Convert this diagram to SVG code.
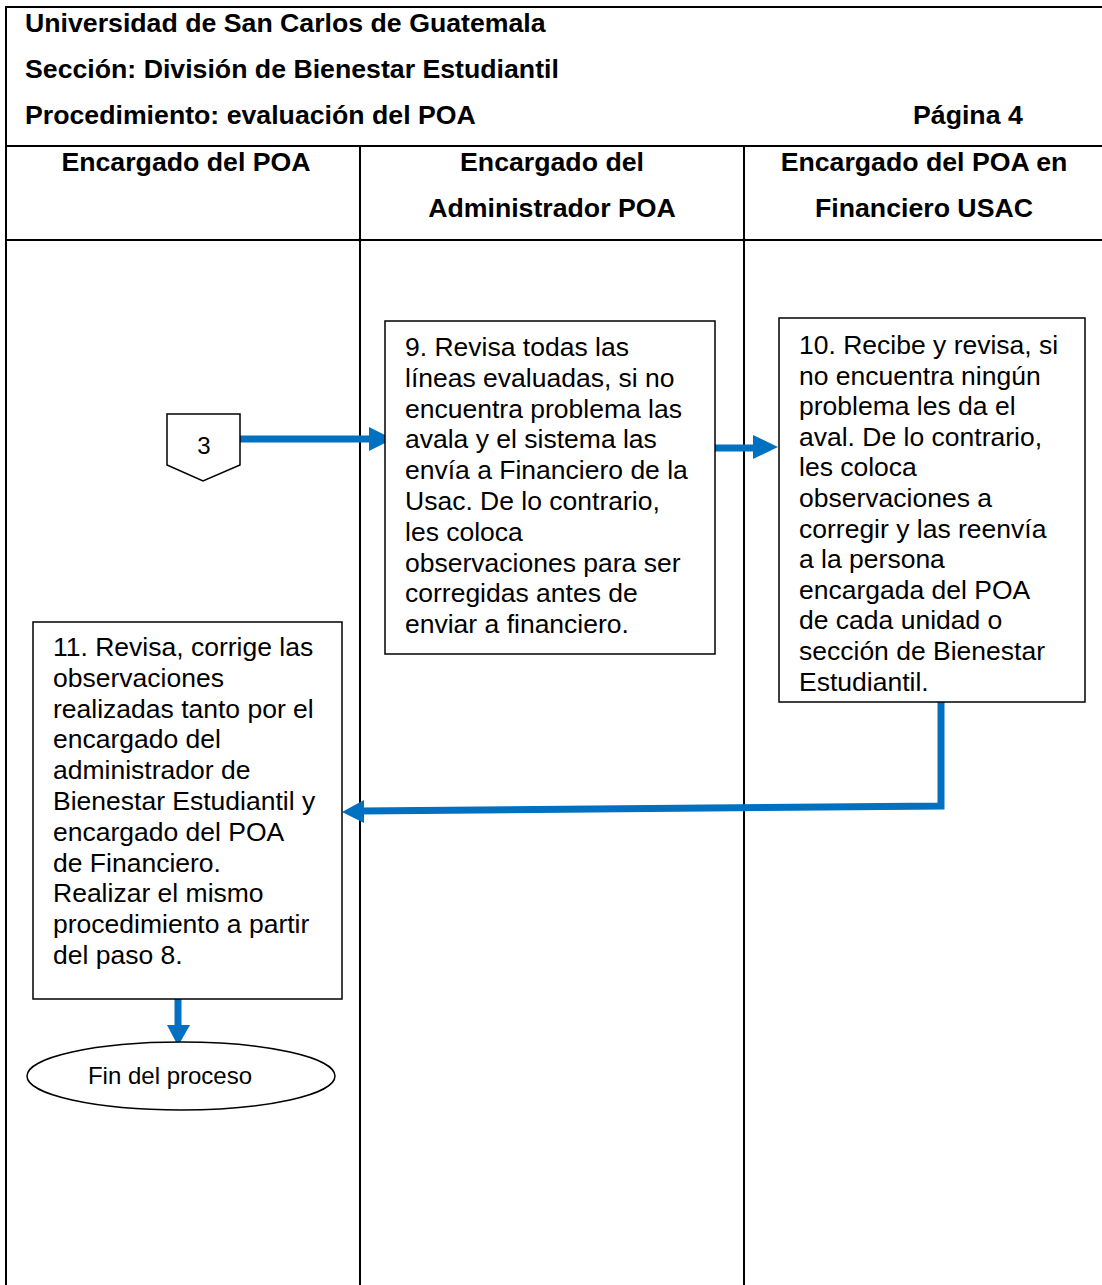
<svg xmlns="http://www.w3.org/2000/svg" width="1102" height="1285" viewBox="0 0 1102 1285">
  <style>
    .grid { stroke: #000; stroke-width: 2; fill: none; }
    .box { fill: #fff; stroke: #000; stroke-width: 1.5; }
    .hdr { font-family: "Liberation Sans", Arial, sans-serif; font-weight: bold; font-size: 26.7px; fill: #000; }
    .body { font-family: "Liberation Sans", Arial, sans-serif; font-size: 26.5px; fill: #000; }
    .small { font-family: "Liberation Sans", Arial, sans-serif; font-size: 24px; fill: #000; }
    .flow { stroke: #0070C0; stroke-width: 7; fill: none; }
    .head { fill: #0070C0; }
  </style>
  <rect width="1102" height="1285" fill="#fff"/>

  <!-- table frame -->
  <g id="table">
    <path class="grid" d="M6 1285 V7 H1110 M6 146 H1110 M6 240 H1110 M360 146 V1285 M744 146 V1285"/>
    <text class="hdr" x="25" y="32">Universidad de San Carlos de Guatemala</text>
    <text class="hdr" x="25" y="78">Sección: División de Bienestar Estudiantil</text>
    <text class="hdr" x="25" y="124">Procedimiento: evaluación del POA</text>
    <text class="hdr" x="913" y="124">Página 4</text>
    <text class="hdr" x="186" y="171" text-anchor="middle">Encargado del POA</text>
    <text class="hdr" x="552" y="171" text-anchor="middle">Encargado del</text>
    <text class="hdr" x="552" y="217" text-anchor="middle">Administrador POA</text>
    <text class="hdr" x="924" y="171" text-anchor="middle">Encargado del POA en</text>
    <text class="hdr" x="924" y="217" text-anchor="middle">Financiero USAC</text>
  </g>

  <!-- connectors -->
  <g id="connectors">
    <line class="flow" x1="240" y1="439" x2="372" y2="439"/>
    <polygon class="head" points="369,427 393,439 369,451"/>
    <line class="flow" x1="713" y1="448" x2="755" y2="448"/>
    <polygon class="head" points="753,435 778,447 753,459"/>
    <polyline class="flow" points="941,702 941,806 360,811"/>
    <polygon class="head" points="364,800 342,812 364,823"/>
    <line class="flow" x1="178" y1="999" x2="178" y2="1027"/>
    <polygon class="head" points="167,1025 190,1025 178,1046"/>
  </g>

  <!-- off-page reference 3 -->
  <g id="ref3">
    <polygon class="box" points="167,414 240,414 240,465 203,481 167,465"/>
    <text class="small" x="204" y="454" text-anchor="middle" font-size="19">3</text>
  </g>

  <!-- step 9 -->
  <g id="step9">
    <rect class="box" x="385" y="321" width="330" height="333"/>
    <text class="body" x="405" y="356">
      <tspan x="405" dy="0">9. Revisa todas las</tspan>
      <tspan x="405" dy="30.8">líneas evaluadas, si no</tspan>
      <tspan x="405" dy="30.8">encuentra problema las</tspan>
      <tspan x="405" dy="30.8">avala y el sistema las</tspan>
      <tspan x="405" dy="30.8">envía a Financiero de la</tspan>
      <tspan x="405" dy="30.8">Usac. De lo contrario,</tspan>
      <tspan x="405" dy="30.8">les coloca</tspan>
      <tspan x="405" dy="30.8">observaciones para ser</tspan>
      <tspan x="405" dy="30.8">corregidas antes de</tspan>
      <tspan x="405" dy="30.8">enviar a financiero.</tspan>
    </text>
  </g>

  <!-- step 10 -->
  <g id="step10">
    <rect class="box" x="779" y="318" width="306" height="384"/>
    <text class="body" x="799" y="354">
      <tspan x="799" dy="0">10. Recibe y revisa, si</tspan>
      <tspan x="799" dy="30.6">no encuentra ningún</tspan>
      <tspan x="799" dy="30.6">problema les da el</tspan>
      <tspan x="799" dy="30.6">aval. De lo contrario,</tspan>
      <tspan x="799" dy="30.6">les coloca</tspan>
      <tspan x="799" dy="30.6">observaciones a</tspan>
      <tspan x="799" dy="30.6">corregir y las reenvía</tspan>
      <tspan x="799" dy="30.6">a la persona</tspan>
      <tspan x="799" dy="30.6">encargada del POA</tspan>
      <tspan x="799" dy="30.6">de cada unidad o</tspan>
      <tspan x="799" dy="30.6">sección de Bienestar</tspan>
      <tspan x="799" dy="30.6">Estudiantil.</tspan>
    </text>
  </g>

  <!-- step 11 -->
  <g id="step11">
    <rect class="box" x="33" y="622" width="309" height="377"/>
    <text class="body" x="53" y="656">
      <tspan x="53" dy="0">11. Revisa, corrige las</tspan>
      <tspan x="53" dy="30.8">observaciones</tspan>
      <tspan x="53" dy="30.8">realizadas tanto por el</tspan>
      <tspan x="53" dy="30.8">encargado del</tspan>
      <tspan x="53" dy="30.8">administrador de</tspan>
      <tspan x="53" dy="30.8">Bienestar Estudiantil y</tspan>
      <tspan x="53" dy="30.8">encargado del POA</tspan>
      <tspan x="53" dy="30.8">de Financiero.</tspan>
      <tspan x="53" dy="30.8">Realizar el mismo</tspan>
      <tspan x="53" dy="30.8">procedimiento a partir</tspan>
      <tspan x="53" dy="30.8">del paso 8.</tspan>
    </text>
  </g>

  <!-- end terminator -->
  <g id="end">
    <ellipse class="box" cx="181" cy="1076" rx="154" ry="34"/>
    <text class="small" x="170" y="1084" text-anchor="middle">Fin del proceso</text>
  </g>
</svg>
